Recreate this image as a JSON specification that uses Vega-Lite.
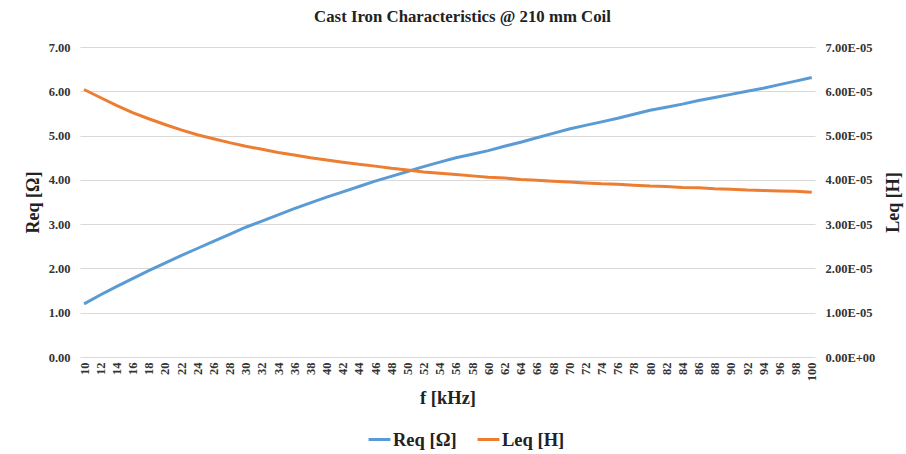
{
  "$schema": "https://vega.github.io/schema/vega-lite/v6.json",
  "width": 735,
  "height": 310,
  "autosize": {"type": "none"},
  "padding": {"left": 80, "top": 47, "right": 91, "bottom": 97},
  "background": "white",
  "title": {"text": "Cast Iron Characteristics @ 210 mm Coil", "font": "Times New Roman, Liberation Serif, serif", "fontSize": 16.8, "fontWeight": "bold", "color": "#222222", "offset": 15, "dx": 15},
  "config": {"view": {"stroke": null}},
  "data": {"values": [
    {"f": 10, "Req": 1.20, "Leq": 0.0000604},
    {"f": 12, "Req": 1.40, "Leq": 0.0000586},
    {"f": 14, "Req": 1.59, "Leq": 0.0000568},
    {"f": 16, "Req": 1.77, "Leq": 0.0000552},
    {"f": 18, "Req": 1.95, "Leq": 0.0000538},
    {"f": 20, "Req": 2.12, "Leq": 0.0000525},
    {"f": 22, "Req": 2.29, "Leq": 0.0000513},
    {"f": 24, "Req": 2.45, "Leq": 0.0000502},
    {"f": 26, "Req": 2.61, "Leq": 0.0000493},
    {"f": 28, "Req": 2.77, "Leq": 0.0000484},
    {"f": 30, "Req": 2.93, "Leq": 0.0000476},
    {"f": 32, "Req": 3.07, "Leq": 0.0000469},
    {"f": 34, "Req": 3.21, "Leq": 0.0000462},
    {"f": 36, "Req": 3.35, "Leq": 0.0000456},
    {"f": 38, "Req": 3.48, "Leq": 0.0000450},
    {"f": 40, "Req": 3.61, "Leq": 0.0000445},
    {"f": 42, "Req": 3.73, "Leq": 0.0000440},
    {"f": 44, "Req": 3.85, "Leq": 0.0000435},
    {"f": 46, "Req": 3.97, "Leq": 0.0000431},
    {"f": 48, "Req": 4.08, "Leq": 0.0000426},
    {"f": 50, "Req": 4.19, "Leq": 0.0000422},
    {"f": 52, "Req": 4.30, "Leq": 0.0000418},
    {"f": 54, "Req": 4.40, "Leq": 0.0000415},
    {"f": 56, "Req": 4.50, "Leq": 0.0000412},
    {"f": 58, "Req": 4.58, "Leq": 0.0000409},
    {"f": 60, "Req": 4.66, "Leq": 0.0000406},
    {"f": 62, "Req": 4.76, "Leq": 0.0000404},
    {"f": 64, "Req": 4.85, "Leq": 0.0000401},
    {"f": 66, "Req": 4.95, "Leq": 0.0000399},
    {"f": 68, "Req": 5.05, "Leq": 0.0000397},
    {"f": 70, "Req": 5.15, "Leq": 0.0000395},
    {"f": 72, "Req": 5.23, "Leq": 0.0000393},
    {"f": 74, "Req": 5.31, "Leq": 0.0000391},
    {"f": 76, "Req": 5.39, "Leq": 0.0000390},
    {"f": 78, "Req": 5.48, "Leq": 0.0000388},
    {"f": 80, "Req": 5.57, "Leq": 0.0000386},
    {"f": 82, "Req": 5.64, "Leq": 0.0000385},
    {"f": 84, "Req": 5.71, "Leq": 0.0000383},
    {"f": 86, "Req": 5.79, "Leq": 0.0000382},
    {"f": 88, "Req": 5.86, "Leq": 0.0000380},
    {"f": 90, "Req": 5.93, "Leq": 0.0000379},
    {"f": 92, "Req": 6.00, "Leq": 0.0000377},
    {"f": 94, "Req": 6.07, "Leq": 0.0000376},
    {"f": 96, "Req": 6.15, "Leq": 0.0000375},
    {"f": 98, "Req": 6.23, "Leq": 0.0000374},
    {"f": 100, "Req": 6.31, "Leq": 0.0000372}
  ]},
  "encoding": {
    "x": {
      "field": "f", "type": "quantitative",
      "scale": {"domain": [9.5, 100.4], "nice": false, "zero": false},
      "axis": {
        "values": [10, 12, 14, 16, 18, 20, 22, 24, 26, 28, 30, 32, 34, 36, 38, 40, 42, 44, 46, 48, 50, 52, 54, 56, 58, 60, 62, 64, 66, 68, 70, 72, 74, 76, 78, 80, 82, 84, 86, 88, 90, 92, 94, 96, 98, 100],
        "labelAngle": -90, "labelFont": "Times New Roman, Liberation Serif, serif", "labelFontWeight": "bold", "labelFontSize": 12.5, "labelColor": "#333333", "labelPadding": 5,
        "domain": false, "ticks": false, "grid": false,
        "title": "f [kHz]", "titleFont": "Times New Roman, Liberation Serif, serif", "titleFontSize": 18.5, "titleFontWeight": "bold", "titleColor": "#222222", "titlePadding": 8
      }
    }
  },
  "layer": [
    {
      "mark": {"type": "line", "strokeWidth": 3},
      "encoding": {
        "y": {
          "field": "Req", "type": "quantitative",
          "scale": {"domain": [0, 7], "nice": false},
          "axis": {
            "values": [0, 1, 2, 3, 4, 5, 6, 7], "labelExpr": "format(datum.value, '.2f')",
            "grid": true, "gridColor": "#D9D9D9", "gridWidth": 1, "domain": false, "ticks": false,
            "labelFont": "Times New Roman, Liberation Serif, serif", "labelFontWeight": "bold", "labelFontSize": 12.5, "labelColor": "#333333", "labelPadding": 10,
            "title": "Req [Ω]", "titleFont": "Times New Roman, Liberation Serif, serif", "titleFontSize": 18, "titleFontWeight": "bold", "titleColor": "#222222", "titlePadding": 6
          }
        },
        "color": {
          "datum": "Req [Ω]",
          "scale": {"domain": ["Req [Ω]", "Leq [H]"], "range": ["#5B9BD5", "#ED7D31"]},
          "legend": {
            "orient": "none", "legendX": 287, "legendY": 380, "direction": "horizontal", "title": null,
            "symbolType": "stroke", "symbolStrokeWidth": 3, "symbolSize": 480,
            "labelFont": "Times New Roman, Liberation Serif, serif", "labelFontWeight": "bold", "labelFontSize": 18.5, "labelColor": "#222222",
            "columnPadding": 14, "labelOffset": 1
          }
        }
      }
    },
    {
      "mark": {"type": "line", "strokeWidth": 3},
      "encoding": {
        "y": {
          "field": "Leq", "type": "quantitative",
          "scale": {"domain": [0, 0.00007], "nice": false},
          "axis": {
            "orient": "right",
            "values": [0, 0.00001, 0.00002, 0.00003, 0.00004, 0.00005, 0.00006, 0.00007],
            "labelExpr": "datum.value < 1e-9 ? '0.00E+00' : format(datum.value * 100000, '.2f') + 'E-05'",
            "grid": false, "domain": false, "ticks": false,
            "labelFont": "Times New Roman, Liberation Serif, serif", "labelFontWeight": "bold", "labelFontSize": 12.5, "labelColor": "#333333", "labelPadding": 10,
            "title": "Leq [H]", "titleAngle": -90, "titleBaseline": "top", "titleFont": "Times New Roman, Liberation Serif, serif", "titleFontSize": 18, "titleFontWeight": "bold", "titleColor": "#222222", "titlePadding": 10
          }
        },
        "color": {"datum": "Leq [H]"}
      }
    }
  ],
  "resolve": {"scale": {"y": "independent"}}
}
